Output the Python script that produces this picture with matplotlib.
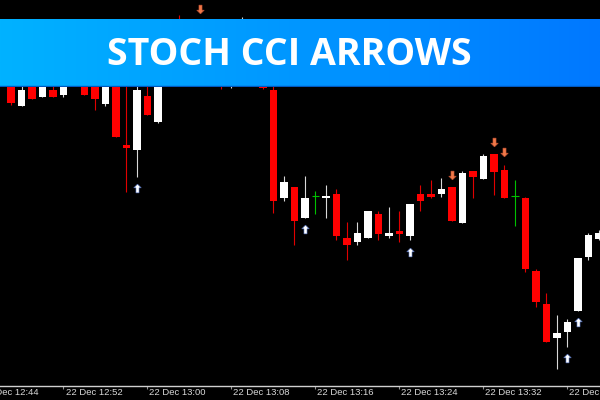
import numpy as np
import matplotlib.pyplot as plt
from matplotlib.path import Path
from matplotlib.colors import LinearSegmentedColormap
import matplotlib.transforms as mtransforms

# one-minute candles, 22 Dec from 12:47 (price in points)
opens = [320, 294, 315, 303, 310, 305, 320, 322, 315, 296, 320, 255, 250, 304, 278,
         340, 370, 355, 375, 360, 340, 320, 345, 365, 340, 310, 202, 213, 182, 204,
         202, 206, 162, 158, 162, 186, 164.5, 169, 164, 206, 206, 206, 213, 177, 229,
         221, 246, 230, 204, 202, 129, 96, 62, 68, 89, 143, 161]
highs = [325, 318, 318, 320, 316, 325, 332, 328, 320, 324, 324, 330, 320, 315, 345,
         370, 385, 380, 381, 365, 345, 355, 383, 370, 345, 320, 224, 213, 224, 209,
         215, 211, 178, 178, 189, 189, 193, 189, 196, 215, 220, 222, 213, 229, 229,
         246, 246, 235, 220, 203, 131, 107, 85, 81, 142, 167, 170]
lows = [295, 294, 301, 303, 303, 303, 316, 305, 290, 294, 263, 208, 223, 285, 277,
        335, 350, 350, 355, 335, 311, 312, 340, 335, 311, 187, 199, 155, 182, 186,
        182, 160, 140, 155, 162, 160, 162, 158, 160, 189, 202, 203, 179, 177, 202,
        221, 205, 202, 174, 128, 93, 58, 31, 53, 89, 140, 160]
closes = [297, 310, 301, 316, 303, 320, 328, 305, 301, 320, 263, 252, 310, 285, 340,
          365, 355, 375, 360, 340, 313, 350, 365, 340, 312, 199, 218, 179, 202, 204,
          204, 164, 155, 167, 189, 166, 167, 166, 196, 199, 203.3, 211, 179, 227, 223,
          244, 228, 202, 204, 131, 98, 58, 67, 78, 142, 165, 167]

# indicator arrows: candle index and level
up_idx = [12, 28, 38, 53, 54]
up_lvl = [212, 171, 148, 42, 78]
dn_idx = [18, 42, 46, 47]
dn_lvl = [391, 225, 258, 248]

tick_pos = [-3, 5, 13, 21, 29, 37, 45, 53]
tick_lbl = ['22 Dec 12:44', '22 Dec 12:52', '22 Dec 13:00', '22 Dec 13:08',
            '22 Dec 13:16', '22 Dec 13:24', '22 Dec 13:32', '22 Dec 13:40']

o = np.array(opens, float)
h = np.array(highs, float)
l = np.array(lows, float)
c = np.array(closes, float)
x = np.arange(len(o))

fig = plt.figure(figsize=(6, 4), dpi=100, facecolor='black')
ax = fig.add_axes([0, 14 / 400, 1, 386 / 400])
ax.set_facecolor('black')

bull = c > o
bear = c < o
doji = c == o
w = 0.67

# wicks
ax.vlines(x[bull], l[bull], h[bull], color='#d8d8d8', lw=0.8, zorder=2)
ax.vlines(x[bear], l[bear], h[bear], color='#e00000', lw=0.8, zorder=2)
ax.vlines(x[doji], l[doji], h[doji], color='#00c000', lw=0.8, zorder=2)

# bodies
ax.bar(x[bull], (c - o)[bull], bottom=o[bull], width=w, color='white', zorder=3)
ax.bar(x[bear], (o - c)[bear], bottom=c[bear], width=w, color='#ff0000', zorder=3)
ax.hlines(o[doji], x[doji] - w / 2, x[doji] + w / 2, color='#00c000', lw=0.8, zorder=3)

# arrow markers
up_arrow = Path([(0, 1), (-0.85, 0.15), (-0.35, 0.15), (-0.35, -1), (0.35, -1),
                 (0.35, 0.15), (0.85, 0.15), (0, 1)])
dn_arrow = Path([(0, -1), (-0.85, -0.15), (-0.35, -0.15), (-0.35, 1), (0.35, 1),
                 (0.35, -0.15), (0.85, -0.15), (0, -1)])
ax.scatter(up_idx, up_lvl, marker=up_arrow, s=40, color='white',
           edgecolors='#5070c0', linewidths=0.4, zorder=4)
ax.scatter(dn_idx, dn_lvl, marker=dn_arrow, s=40, color='#f07848',
           edgecolors='#c05030', linewidths=0.4, zorder=4)

ax.set_xlim(-11 / 10.5, 589 / 10.5)
ax.set_ylim(14, 400)
for side in ['top', 'left', 'right']:
    ax.spines[side].set_visible(False)
ax.spines['bottom'].set_color('#d0d0d0')
ax.spines['bottom'].set_linewidth(1.0)
ax.set_yticks([])
ax.set_xticks(tick_pos[1:])
ax.set_xticklabels([])
ax.tick_params(axis='x', colors='#909090', length=2, width=0.8, direction='out')

trans = mtransforms.blended_transform_factory(ax.transData, fig.transFigure)
trans = mtransforms.offset_copy(trans, fig=fig, x=2, y=0, units='dots')
for p, lbl in zip(tick_pos, tick_lbl):
    ax.text(p, 7.5 / 400, lbl, transform=trans, ha='left', va='center',
            color='#d8d8d8', fontsize=6.8, family='Liberation Sans', clip_on=False)

# title banner
bax = fig.add_axes([0, (400 - 86.5) / 400, 1, 67.5 / 400])
cmap = LinearSegmentedColormap.from_list('banner', ['#00b2ff', '#0096ff', '#0078ff'])
bax.imshow(np.linspace(0, 1, 256)[None, :], aspect='auto', cmap=cmap,
           extent=[0, 1, 0, 1])
bax.axhline(0.01, color='#0058c0', lw=1)
bax.set_xlim(0, 1)
bax.set_ylim(0, 1)
bax.axis('off')
bax.text(0.482, 0.47, 'STOCH CCI ARROWS', ha='center', va='center', color='white',
         fontsize=27, fontweight='bold', family='Open Sans')

fig.savefig('out.png', dpi=100, facecolor='black')
